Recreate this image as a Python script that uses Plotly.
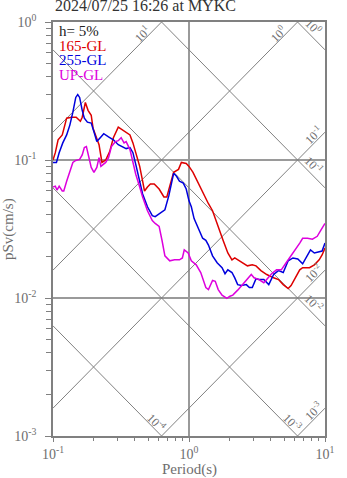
import math
import plotly.graph_objects as go

# Pseudo-velocity response spectra (h = 5%), period in s, pSv in cm/s
period_165 = [0.100, 0.104, 0.109, 0.117, 0.126, 0.137, 0.148, 0.159, 0.164, 0.173,
              0.181, 0.191, 0.197, 0.207, 0.218, 0.229, 0.244, 0.261, 0.278, 0.302,
              0.323, 0.345, 0.368, 0.387, 0.406, 0.434, 0.456, 0.471, 0.495, 0.520,
              0.555, 0.603, 0.654, 0.687, 0.722, 0.771, 0.837, 0.879, 0.954, 1.00,
              1.07, 1.16, 1.28, 1.39, 1.49, 1.64, 1.78, 1.93, 2.07, 2.17,
              2.28, 2.48, 2.69, 2.92, 3.11, 3.38, 3.73, 4.19, 4.55, 4.93,
              5.36, 5.63, 6.01, 6.52, 6.85, 7.69, 8.35, 9.06, 9.52, 10.0]
psv_165 = [0.100, 0.113, 0.140, 0.152, 0.201, 0.204, 0.204, 0.191, 0.204, 0.261,
           0.229, 0.211, 0.170, 0.147, 0.129, 0.0960, 0.100, 0.115, 0.145, 0.173,
           0.165, 0.157, 0.152, 0.133, 0.113, 0.0899, 0.0702, 0.0596, 0.0637, 0.0669,
           0.0669, 0.0616, 0.0540, 0.0540, 0.0647, 0.0814, 0.0855, 0.0960, 0.0944, 0.0899,
           0.0814, 0.0691, 0.0567, 0.0482, 0.0429, 0.0325, 0.0262, 0.0212, 0.0189, 0.0195,
           0.0189, 0.0180, 0.0171, 0.0174, 0.0171, 0.0158, 0.0148, 0.0140, 0.0136, 0.0125,
           0.0117, 0.0123, 0.0140, 0.0160, 0.0166, 0.0166, 0.0174, 0.0189, 0.0205, 0.0230]

period_255 = [0.100, 0.106, 0.111, 0.118, 0.126, 0.133, 0.140, 0.147, 0.152, 0.157,
              0.164, 0.170, 0.179, 0.191, 0.200, 0.210, 0.225, 0.236, 0.256, 0.278,
              0.302, 0.328, 0.345, 0.368, 0.387, 0.406, 0.434, 0.456, 0.495, 0.537,
              0.564, 0.603, 0.633, 0.665, 0.710, 0.746, 0.771, 0.810, 0.851, 0.908,
              0.954, 1.00, 1.04, 1.09, 1.18, 1.26, 1.33, 1.39, 1.49, 1.61,
              1.75, 1.84, 1.93, 2.07, 2.17, 2.28, 2.43, 2.64, 2.78, 2.92,
              3.11, 3.27, 3.55, 3.86, 4.19, 4.55, 4.93, 5.36, 5.81, 6.31,
              6.85, 7.44, 7.82, 8.35, 9.06, 9.52, 10.0]
psv_255 = [0.0960, 0.0960, 0.113, 0.133, 0.152, 0.179, 0.222, 0.284, 0.298, 0.284,
           0.229, 0.201, 0.188, 0.185, 0.160, 0.136, 0.147, 0.155, 0.147, 0.140,
           0.129, 0.123, 0.121, 0.123, 0.113, 0.0929, 0.0702, 0.0567, 0.0458, 0.0395,
           0.0389, 0.0409, 0.0422, 0.0436, 0.0549, 0.0702, 0.0801, 0.0762, 0.0702, 0.0680,
           0.0616, 0.0506, 0.0458, 0.0376, 0.0309, 0.0271, 0.0262, 0.0242, 0.0202, 0.0180,
           0.0166, 0.0150, 0.0160, 0.0153, 0.0140, 0.0125, 0.0123, 0.0125, 0.0119, 0.0119,
           0.0138, 0.0136, 0.0136, 0.0125, 0.0148, 0.0158, 0.0153, 0.0186, 0.0195, 0.0192,
           0.0177, 0.0202, 0.0223, 0.0212, 0.0215, 0.0219, 0.0250]

period_up = [0.100, 0.104, 0.107, 0.111, 0.117, 0.120, 0.126, 0.133, 0.140, 0.147,
             0.157, 0.164, 0.170, 0.176, 0.181, 0.191, 0.200, 0.210, 0.218, 0.225,
             0.244, 0.256, 0.269, 0.288, 0.302, 0.317, 0.333, 0.345, 0.368, 0.387,
             0.406, 0.434, 0.456, 0.495, 0.537, 0.564, 0.603, 0.633, 0.665, 0.722,
             0.783, 0.851, 0.894, 0.923, 0.986, 1.04, 1.13, 1.22, 1.33, 1.39,
             1.49, 1.56, 1.64, 1.75, 1.90, 2.00, 2.10, 2.28, 2.48, 2.69,
             2.87, 3.01, 3.27, 3.55, 3.73, 4.05, 4.40, 4.77, 5.18, 5.63,
             6.01, 6.52, 6.85, 7.44, 8.08, 8.77, 9.21, 10.0]
psv_up = [0.0637, 0.0647, 0.0606, 0.0647, 0.0596, 0.0596, 0.0702, 0.0828, 0.0960, 0.0992,
          0.101, 0.109, 0.123, 0.125, 0.109, 0.0884, 0.0814, 0.0884, 0.104, 0.0899,
          0.0960, 0.104, 0.125, 0.136, 0.138, 0.145, 0.133, 0.136, 0.119, 0.0960,
          0.0788, 0.0637, 0.0540, 0.0429, 0.0364, 0.0347, 0.0330, 0.0262, 0.0202, 0.0186,
          0.0189, 0.0189, 0.0195, 0.0223, 0.0212, 0.0186, 0.0174, 0.0153, 0.0119, 0.0115,
          0.0134, 0.0132, 0.0115, 0.0105, 0.00995, 0.0103, 0.0105, 0.0114, 0.0125, 0.0136,
          0.0148, 0.0140, 0.0136, 0.0129, 0.0136, 0.0150, 0.0160, 0.0160, 0.0180, 0.0202,
          0.0223, 0.0250, 0.0271, 0.0271, 0.0267, 0.0280, 0.0304, 0.0347]

series_names = ["165-GL", "255-GL", "UP-GL"]
series_colors = ["#dd0000", "#0000dd", "#dd00dd"]

# Tripartite guide lines: constant acceleration (cm/s^2) and displacement (cm)
accel_levels = [1e1, 1e0, 1e-1, 1e-2, 1e-3]
disp_levels = [1e0, 1e-1, 1e-2, 1e-3, 1e-4]

T_MIN, T_MAX = 0.1, 10.0
SV_MIN, SV_MAX = 1e-3, 1.0
TWO_PI = 2 * math.pi

FONT = "Liberation Serif, Times New Roman, serif"
GREY = "#808080"
TXT_GREY = "#6e6e6e"


def power_label(v):
    e = int(round(math.log10(v)))
    return "10<sup>%d</sup>" % e


fig = go.Figure()

annotations = []

for a in accel_levels:
    fig.add_trace(go.Scatter(
        x=[T_MIN, T_MAX], y=[a * T_MIN / TWO_PI, a * T_MAX / TWO_PI],
        mode="lines", line=dict(color=GREY, width=1),
        hoverinfo="skip", showlegend=False))
    sv_right = a * T_MAX / TWO_PI
    if sv_right <= SV_MAX:
        ex, ey, dx, dy = T_MAX, sv_right, -12, 3
    else:
        ex, ey, dx, dy = TWO_PI * SV_MAX / a, SV_MAX, -20, 12
    annotations.append(dict(
        x=math.log10(ex), y=math.log10(ey), xref="x", yref="y",
        text=power_label(a), showarrow=False, textangle=-45,
        xshift=dx, yshift=-dy,
        font=dict(family=FONT, size=12, color=TXT_GREY)))

for d in disp_levels:
    fig.add_trace(go.Scatter(
        x=[T_MIN, T_MAX], y=[TWO_PI * d / T_MIN, TWO_PI * d / T_MAX],
        mode="lines", line=dict(color=GREY, width=1),
        hoverinfo="skip", showlegend=False))
    sv_right = TWO_PI * d / T_MAX
    if sv_right >= SV_MIN:
        ex, ey, dx, dy = T_MAX, sv_right, -12, -23
    else:
        ex, ey, dx, dy = TWO_PI * d / SV_MIN, SV_MIN, -5, -14
    annotations.append(dict(
        x=math.log10(ex), y=math.log10(ey), xref="x", yref="y",
        text=power_label(d), showarrow=False, textangle=45,
        xshift=dx, yshift=-dy,
        font=dict(family=FONT, size=12, color=TXT_GREY)))

for per, sv, name, col in zip([period_165, period_255, period_up],
                              [psv_165, psv_255, psv_up],
                              series_names, series_colors):
    fig.add_trace(go.Scatter(x=per, y=sv, mode="lines", name=name,
                             line=dict(color=col, width=1.5),
                             showlegend=False))

# In-plot legend text
legend_rows = [("h= 5%", "#222222")] + list(zip(series_names, series_colors))
for i, (txt, col) in enumerate(legend_rows):
    annotations.append(dict(
        x=0, y=1, xref="paper", yref="paper", xanchor="left", yanchor="middle",
        xshift=4, yshift=-(9 + 14.5 * i), text=txt, showarrow=False,
        font=dict(family=FONT, size=15, color=col)))

# Title and axis titles
annotations.append(dict(
    x=0, y=1, xref="paper", yref="paper", xanchor="left", yanchor="middle",
    yshift=17, text="2024/07/25 16:26 at MYKC", showarrow=False,
    font=dict(family=FONT, size=16, color="#333333")))
annotations.append(dict(
    x=0.5, y=0, xref="paper", yref="paper", xanchor="center", yanchor="middle",
    yshift=-33, text="Period(s)", showarrow=False,
    font=dict(family=FONT, size=15, color=TXT_GREY)))
annotations.append(dict(
    x=0, y=0.5, xref="paper", yref="paper", xanchor="center", yanchor="middle",
    xshift=-45, text="pSv(cm/s)", showarrow=False, textangle=-90,
    font=dict(family=FONT, size=15, color=TXT_GREY)))

x_minor = [m * 10 ** e for e in (-1, 0) for m in range(2, 10)]
y_minor = [m * 10 ** e for e in (-3, -2, -1) for m in range(2, 10)]

axis_common = dict(
    showline=True, linecolor=GREY, linewidth=1.5, mirror=True,
    showgrid=True, gridcolor="#9a9a9a", gridwidth=1.5,
    ticks="outside", tickwidth=1, tickcolor=GREY,
    tickfont=dict(family=FONT, size=14, color=TXT_GREY),
    zeroline=False,
)

fig.update_layout(
    width=347, height=478,
    margin=dict(l=53, r=14, t=15, b=42),
    paper_bgcolor="white", plot_bgcolor="white",
    showlegend=False,
    annotations=annotations,
    xaxis=dict(type="log", range=[-1, 1], ticklen=4,
               tickmode="array", tickvals=[0.1, 1, 10],
               ticktext=[power_label(v) for v in (0.1, 1, 10)],
               minor=dict(tickmode="array", tickvals=x_minor, ticks="outside",
                          ticklen=3, tickcolor=GREY, showgrid=False),
               **axis_common),
    yaxis=dict(type="log", range=[-3, 0], ticklen=6,
               tickmode="array", tickvals=[0.001, 0.01, 0.1, 1],
               ticktext=[power_label(v) for v in (0.001, 0.01, 0.1, 1)],
               minor=dict(tickmode="array", tickvals=y_minor, ticks="outside",
                          ticklen=5, tickcolor=GREY, showgrid=False),
               ticklabelstandoff=6,
               **axis_common),
)

fig.write_html("out.html")
